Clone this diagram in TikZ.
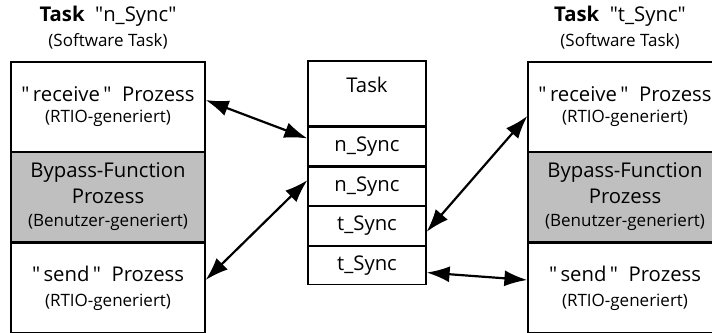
\documentclass[tikz,border=0pt]{standalone}
\usepackage{fontspec}
\setmainfont{Open Sans}
\usetikzlibrary{arrows.meta,positioning}

\newcommand{\bigtxt}{\fontsize{20.3}{26}\selectfont}
\newcommand{\smalltxt}{\fontsize{17}{21}\selectfont}
\newcommand{\qt}{\XeTeXglyph\XeTeXcharglyph"0022\relax}

\tikzset{
  part/.style={draw, line width=1.2pt, minimum width=194pt, minimum height=90pt,
               inner sep=0pt, align=center, font=\bigtxt},
  slot/.style={draw, line width=1.2pt, minimum width=118pt, minimum height=38.5pt,
               inner sep=0pt, font=\bigtxt},
  link/.style={{Latex[length=23pt,width=16pt]}-{Latex[length=23pt,width=16pt]}, line width=2.2pt},
}

\begin{document}
\begin{tikzpicture}[x=1pt, y=-1pt]
    \useasboundingbox (0,0) rectangle (712,332);
    % titles
    \node[align=center, font=\bigtxt] (titleL) at (108,28) {\textbf{Task}\ \ \qt n\_Sync\qt\\[-1pt]{\smalltxt (Software Task)}};
    \node[align=center, font=\bigtxt] (titleR) at (620,28) {\textbf{Task}\ \ \qt t\_Sync\qt\\[-1pt]{\smalltxt (Software Task)}};
    % left task
    \node[part] (recvL) at (108,107) {\qt\,receive\,\qt\ \ Prozess\\[-5pt]{\smalltxt (RTIO-generiert)}};
    \node[part, fill=black!25] (bypL) at (108,197) {Bypass-Function\\[0pt]Prozess\\[-3pt]{\smalltxt (Benutzer-generiert)}};
    \node[part] (sendL) at (108,288) {\qt\,send\,\qt\ \ Prozess\\[-1pt]{\smalltxt (RTIO-generiert)}};
    % right task
    \node[part] (recvR) at (625,107) {\qt\,receive\,\qt\ \ Prozess\\[-5pt]{\smalltxt (RTIO-generiert)}};
    \node[part, fill=black!25] (bypR) at (625,197) {Bypass-Function\\[0pt]Prozess\\[-3pt]{\smalltxt (Benutzer-generiert)}};
    \node[part] (sendR) at (625,288) {\qt\,send\,\qt\ \ Prozess\\[-1pt]{\smalltxt (RTIO-generiert)}};
    % middle table
    \node[slot, minimum height=65pt, text depth=18pt] (task) at (367,93.5) {Task};
    \node[slot, below=0pt of task] (nA) {n\_Sync};
    \node[slot, below=0pt of nA] (nB) {n\_Sync};
    \node[slot, below=0pt of nB] (tA) {t\_Sync};
    \node[slot, below=0pt of tA] (tB) {t\_Sync};
    \draw[line width=3pt] (task.south west) -- (task.south east);
    % connections
    \draw[link] ([yshift=7pt]recvL.east) -- ([yshift=8pt]nA.west);
    \draw[link] ([yshift=8pt]sendL.east) -- ([yshift=6pt]nB.west);
    \draw[link] ([yshift=-9pt]recvR.west) -- ([yshift=-6pt]tA.east);
    \draw[link] ([yshift=8pt]sendR.west) -- ([yshift=-7pt]tB.east);
\end{tikzpicture}
\end{document}
